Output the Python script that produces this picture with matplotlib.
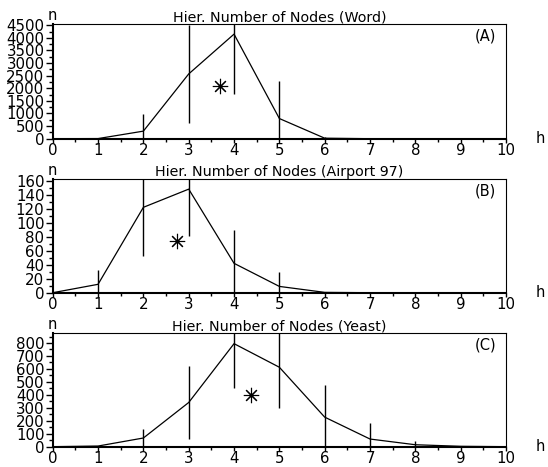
import matplotlib
matplotlib.use("Agg")
import matplotlib.pyplot as plt
from matplotlib.ticker import MultipleLocator

h = [0, 1, 2, 3, 4, 5, 6, 7, 8, 9, 10]

# (A) Word
word_n = [0, 5, 300, 2570, 4150, 800, 20, 0, 0, 0, 0]
word_err = [0, 0, 670, 1950, 2380, 1490, 60, 0, 0, 0, 0]
word_star = (3.69, 2075)

# (B) Airport 97
air_n = [0, 12, 122, 148, 42, 9, 0.5, 0, 0, 0, 0]
air_err = [0, 20, 70, 67, 48, 21, 0, 0, 0, 0, 0]
air_star = (2.735, 74)

# (C) Yeast
yeast_n = [0, 5, 67, 341, 795, 613, 228, 59, 15, 3, 0]
yeast_err = [0, 0, 71, 280, 339, 318, 249, 126, 31, 0, 0]
yeast_star = (4.37, 397)

titles = ["Hier. Number of Nodes (Word)",
          "Hier. Number of Nodes (Airport 97)",
          "Hier. Number of Nodes (Yeast)"]
tags = ["(A)", "(B)", "(C)"]
ytops = [4540, 162, 875]
ymajor = [500, 20, 100]

fig = plt.figure(figsize=(5.48, 4.67), dpi=100)

boxes = [[0.0962, 0.703, 0.8272, 0.245],
         [0.0962, 0.3732, 0.8272, 0.2428],
         [0.0962, 0.0435, 0.8272, 0.2428]]

data = [(word_n, word_err, word_star),
        (air_n, air_err, air_star),
        (yeast_n, yeast_err, yeast_star)]

for i in range(3):
    ax = fig.add_axes(boxes[i])
    n, err, star = data[i]
    ax.plot(h, n, color="black", lw=0.9)
    ax.errorbar(h, n, yerr=err, fmt="none", ecolor="black", elinewidth=1.0, capsize=0)
    ax.plot([star[0]], [star[1]], marker=(8, 2, 0), markersize=11,
            color="black", markeredgewidth=0.8, linestyle="none")

    ax.set_xlim(0, 10)
    ax.set_ylim(0, ytops[i])
    ax.xaxis.set_major_locator(MultipleLocator(1))
    ax.xaxis.set_minor_locator(MultipleLocator(0.5))
    ax.yaxis.set_major_locator(MultipleLocator(ymajor[i]))
    ax.yaxis.set_minor_locator(MultipleLocator(ymajor[i] / 2))
    ax.tick_params(which="major", direction="out", length=5, width=1, labelsize=10.8, pad=1)
    ax.tick_params(which="minor", direction="out", length=3, width=1)
    ax.tick_params(axis="x", which="major", length=3, pad=0)
    ax.tick_params(axis="x", which="minor", length=2)

    ax.spines["left"].set_linewidth(1.5)
    ax.spines["bottom"].set_linewidth(1.5)
    ax.spines["top"].set_linewidth(0.8)
    ax.spines["right"].set_linewidth(0.8)

    ax.set_title(titles[i], fontsize=10.3, pad=1)
    ax.text(0.0, 1.01, "n", transform=ax.transAxes, ha="center", va="bottom", fontsize=10.5)
    ax.text(1.075, 0.0, "h", transform=ax.transAxes, ha="center", va="center", fontsize=10.5)
    ax.text(0.955, 0.9, tags[i], transform=ax.transAxes, ha="center", va="center", fontsize=10.5)

fig.savefig("out.png", dpi=100)
